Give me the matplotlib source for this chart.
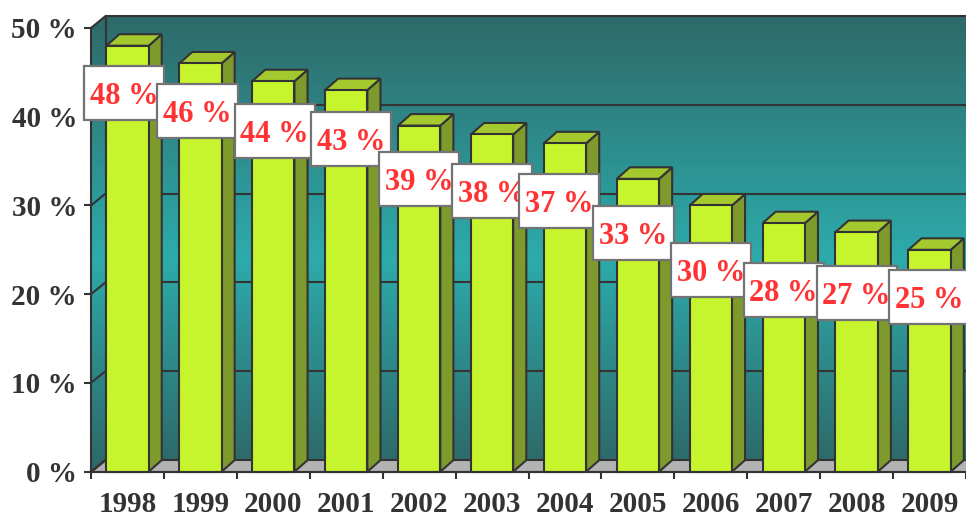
import numpy as np
import matplotlib
matplotlib.use('Agg')
import matplotlib.pyplot as plt
from matplotlib.patches import Polygon, Rectangle
from matplotlib.colors import LinearSegmentedColormap

plt.rcParams.update({
    'font.family': ['Liberation Serif', 'DejaVu Serif'],
    'font.weight': 'bold',
})

# Data
years = ['1998', '1999', '2000', '2001', '2002', '2003',
         '2004', '2005', '2006', '2007', '2008', '2009']
shares = [48, 46, 44, 43, 39, 38, 37, 33, 30, 28, 27, 25]
y_ticks = [0, 10, 20, 30, 40, 50]
y_tick_labels = [f'{v} %' for v in y_ticks]

# label box placement (hand-placed in the original): drop below bar top, x nudge
label_drop = [5.3, 5.35, 5.6, 5.5, 6.0, 6.35, 6.5, 6.1, 7.3, 7.5, 6.85, 5.3]
label_nudge = [-0.05, -0.04, 0.02, 0.07, 0, 0, -0.08, -0.06, 0, 0, 0, 0]

# Style
front_col = '#C6F52D'
side_col = '#7E9A2C'
top_col = '#A3C92F'
edge_col = '#333333'
floor_col = '#B3B3B3'
label_red = '#FF3333'
wall_cmap = LinearSegmentedColormap.from_list(
    'wall', [(0.0, '#2E6666'), (0.47, '#2DABAB'), (1.0, '#2F6969')])

fig = plt.figure(figsize=(9.66, 5.13), dpi=100)
ax = fig.add_axes([91 / 966, 41.3 / 513, 875 / 966, 443.7 / 513])

n = len(years)
ymax = y_ticks[-1]
dx, dy = 0.2, 1.35          # depth of the 3D box (data units)
bdx, bdy = 0.18, 1.3        # depth of a bar
bw = 0.58                   # bar width
lbl_w, lbl_h = 1.1, 6.05    # label box size

# walls with vertical gradient
grad = np.linspace(0, 1, 256).reshape(-1, 1)
im = ax.imshow(grad, cmap=wall_cmap, extent=(0, n + 1, 0, ymax + dy),
               origin='lower', aspect='auto', interpolation='bilinear', zorder=0)
wall = Polygon([(0, 0), (dx, dy), (n + 1, dy), (n + 1, ymax + dy),
                (dx, ymax + dy), (0, ymax)], closed=True, transform=ax.transData)
im.set_clip_path(wall)
im.set_clip_box(fig.bbox)

# floor
ax.add_patch(Polygon([(0, 0), (n + 1, 0), (n + 1, dy), (dx, dy)], closed=True,
                     facecolor=floor_col, edgecolor=edge_col, lw=1.5,
                     clip_on=False, zorder=1))

# gridlines on back + side wall
line_kw = dict(color=edge_col, lw=1.5, clip_on=False, zorder=1)
for v in y_ticks[1:-1]:
    ax.plot([dx, n + 1], [v + dy, v + dy], **line_kw)
    ax.plot([0, dx], [v, v + dy], **line_kw)
ax.plot([0, dx, n + 1], [ymax, ymax + dy, ymax + dy], **line_kw)
ax.plot([dx, dx], [dy, ymax + dy], **line_kw)
ax.plot([0, dx], [0, dy], **line_kw)

# 3D bars
for i, v in enumerate(shares):
    x0 = i + 0.5 - bw / 2
    x1 = i + 0.5 + bw / 2
    ax.add_patch(Polygon([(x1, 0), (x1 + bdx, bdy), (x1 + bdx, v + bdy), (x1, v)],
                         closed=True, facecolor=side_col, edgecolor=edge_col,
                         lw=1.5, clip_on=False, zorder=3))
    ax.add_patch(Polygon([(x0, v), (x1, v), (x1 + bdx, v + bdy), (x0 + bdx, v + bdy)],
                         closed=True, facecolor=top_col, edgecolor=edge_col,
                         lw=1.5, clip_on=False, zorder=3))
    ax.add_patch(Rectangle((x0, 0), bw, v, facecolor=front_col,
                           edgecolor=edge_col, lw=1.5, clip_on=False, zorder=3))

# value labels (white boxes, later ones on top)
for i, v in enumerate(shares):
    cx, cy = i + 0.5 + label_nudge[i], v - label_drop[i]
    ax.add_patch(Rectangle((cx - lbl_w / 2, cy - lbl_h / 2), lbl_w, lbl_h,
                           facecolor='white', edgecolor='#737373', lw=1.6,
                           clip_on=False, zorder=6 + 2 * i))
    ax.text(cx, cy, f'{v} %', ha='center', va='center_baseline',
            fontsize=22, color=label_red, fontweight='bold',
            zorder=7 + 2 * i, clip_on=False)

ax.set_xlim(0, n)
ax.set_ylim(0, ymax)

for s in ['top', 'right']:
    ax.spines[s].set_visible(False)
for s in ['left', 'bottom']:
    ax.spines[s].set_color(edge_col)
    ax.spines[s].set_linewidth(1.5)
    ax.spines[s].set_zorder(4)

ax.set_yticks(y_ticks, y_tick_labels)
ax.set_xticks(np.arange(n + 1), [''] * (n + 1))
ax.set_xticks(np.arange(n) + 0.5, years, minor=True)
ax.tick_params(axis='y', length=5, width=1.5, color=edge_col, pad=5,
               labelsize=21, labelcolor=edge_col)
ax.tick_params(axis='x', which='major', length=5, width=1.5, color=edge_col)
ax.tick_params(axis='x', which='minor', length=0, pad=14,
               labelsize=21, labelcolor=edge_col)

fig.savefig('out.png', dpi=100)
